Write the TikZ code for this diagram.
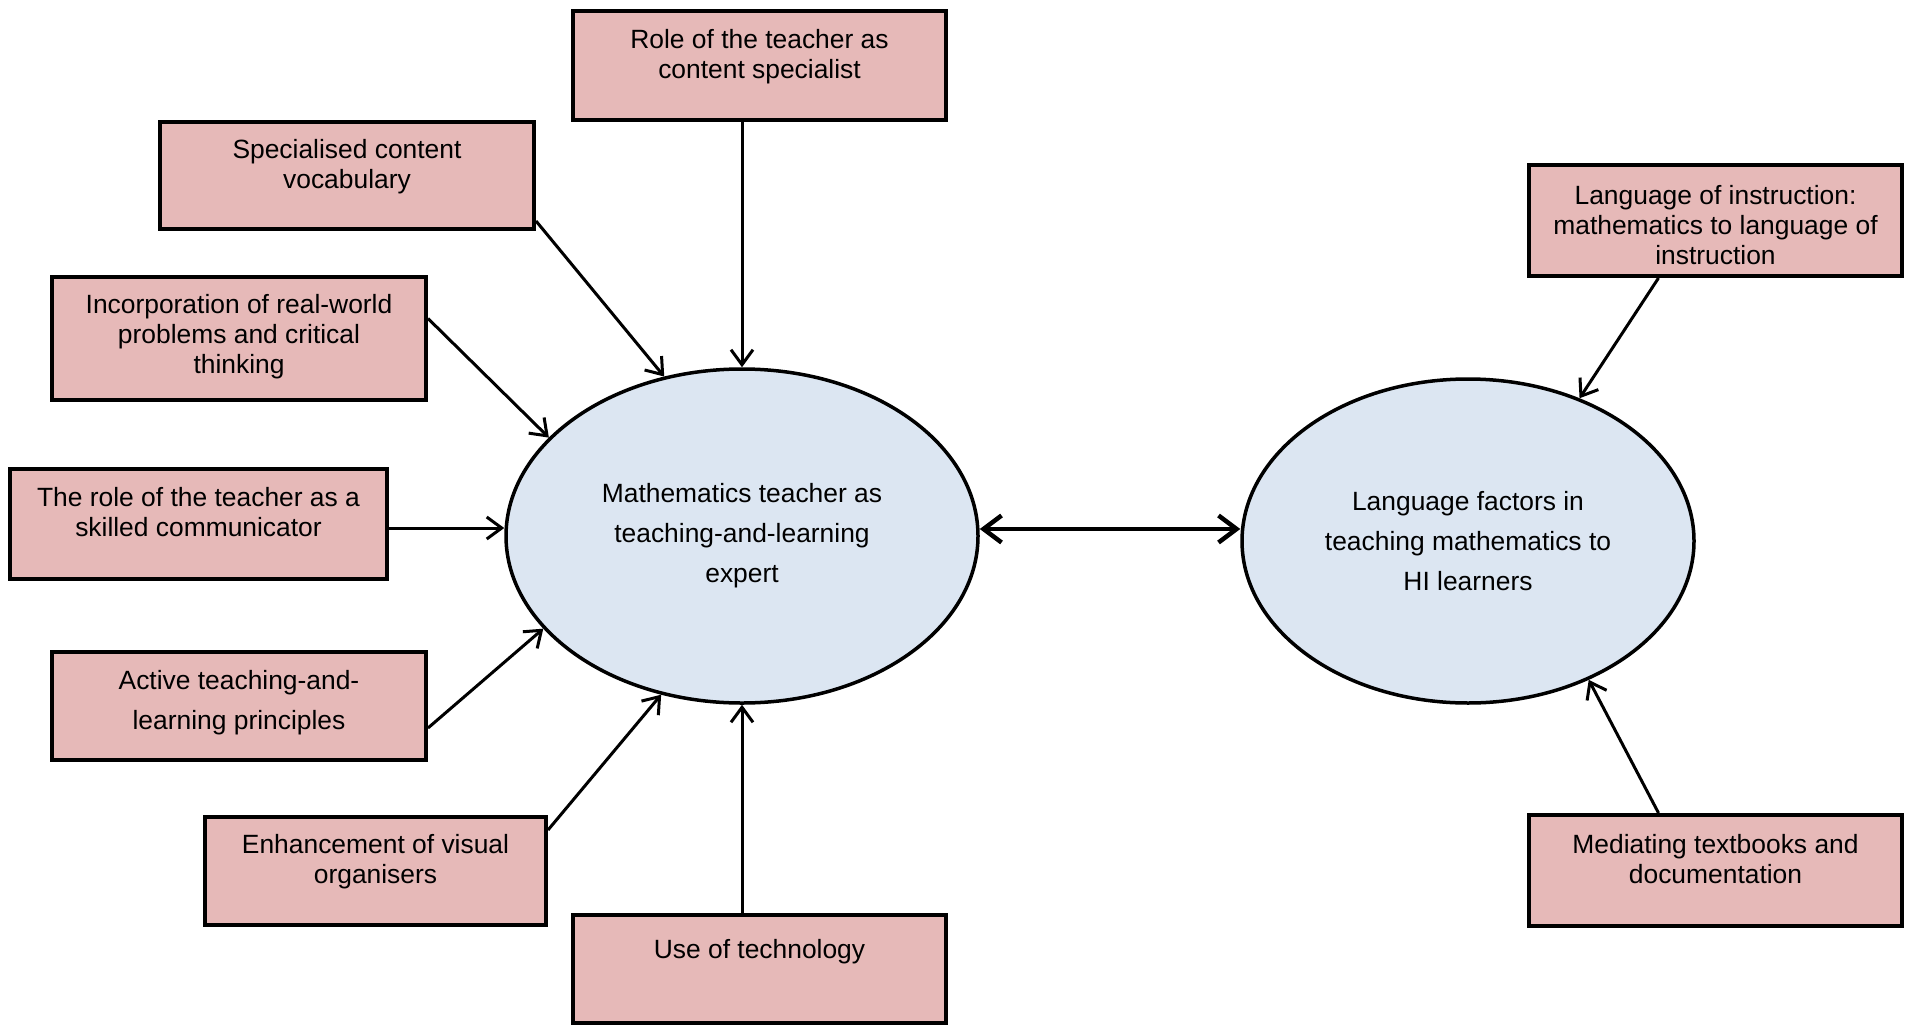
\documentclass[tikz,border=0pt]{standalone}
\usepackage{fontspec}
\setmainfont{Liberation Sans}
\usetikzlibrary{shapes.geometric,arrows.meta}
\definecolor{boxpink}{HTML}{E6B9B8}
\definecolor{ellblue}{HTML}{DCE6F2}
\begin{document}
\begin{tikzpicture}[x=1pt,y=-1pt,
  box/.style={draw=black,line width=4pt,fill=boxpink,rectangle,inner sep=0pt},
  txt/.style={anchor=north,inner sep=0pt,align=center,font=\fontsize{26.4}{30}\selectfont},
  txtwide/.style={anchor=north,inner sep=0pt,align=center,font=\fontsize{26.4}{40}\selectfont},
  ell/.style={draw=black,line width=3.5pt,fill=ellblue,ellipse,inner sep=0pt,align=center,font=\fontsize{26.4}{40}\selectfont},
  conn/.style={line width=3pt,-{Straight Barb[length=15pt,width=22pt]}},
  dbl/.style={line width=4.5pt,{Straight Barb[length=18pt,width=27pt]}-{Straight Barb[length=18pt,width=27pt]}}
]
\useasboundingbox (0,0) rectangle (1905,1025);

% boxes
\node[box,minimum width=373pt,minimum height=109pt] (b1) at (759.5,65.5) {};
\node[box,minimum width=374pt,minimum height=107pt] (b2) at (347,175.5) {};
\node[box,minimum width=374pt,minimum height=123pt] (b3) at (239,338.5) {};
\node[box,minimum width=377pt,minimum height=110pt] (b4) at (198.5,524) {};
\node[box,minimum width=374pt,minimum height=108pt] (b5) at (239,706) {};
\node[box,minimum width=341pt,minimum height=108pt] (b6) at (375.5,871) {};
\node[box,minimum width=373pt,minimum height=108pt] (b7) at (759.5,969) {};
\node[box,minimum width=373pt,minimum height=111pt] (b8) at (1715.5,220.5) {};
\node[box,minimum width=373pt,minimum height=111pt] (b9) at (1715.5,870.5) {};

% box texts
\node[txt] (t1) at ([yshift=-20pt]b1.north) {Role of the teacher as\\content specialist};
\node[txt] (t2) at ([yshift=-19pt]b2.north) {Specialised content\\vocabulary};
\node[txt] (t3) at ([yshift=-19pt]b3.north) {Incorporation of real-world\\problems and critical\\thinking};
\node[txt] (t4) at ([yshift=-20pt]b4.north) {The role of the teacher as a\\skilled communicator};
\node[txtwide] (t5) at ([yshift=-20pt]b5.north) {Active teaching-and-\\learning principles};
\node[txt] (t6) at ([yshift=-19pt]b6.north) {Enhancement of visual\\organisers};
\node[txt] (t7) at ([yshift=-26pt]b7.north) {Use of technology};
\node[txt] (t8) at ([yshift=-22pt]b8.north) {Language of instruction:\\mathematics to language of\\instruction};
\node[txt] (t9) at ([yshift=-21pt]b9.north) {Mediating textbooks and\\documentation};

% ellipses
\node[ell,minimum width=472pt,minimum height=334pt] (e1) at (742,536) {Mathematics teacher as\\teaching-and-learning\\expert};
\node[ell,minimum width=452pt,minimum height=324pt] (e2) at (1468,541) {Language factors in\\teaching mathematics to\\HI learners};

% connectors
\draw[conn] (b1.south -| e1.north) -- (e1.north);
\draw[conn] ([yshift=10pt]b2.south east) -- (e1.116.7);
\draw[conn] ([yshift=20pt]b3.east) -- (e1.153);
\draw[conn] ([yshift=-4pt]b4.east) -- ([yshift=-4pt]b4.east -| e1.west);
\draw[conn] ([yshift=-22pt]b5.east) -- (e1.205);
\draw[conn] ([yshift=41pt]b6.east) -- (e1.243.6);
\draw[conn] (b7.north -| e1.south) -- (e1.south);
\draw[conn] ([xshift=-57pt]b8.south) -- (e2.52);
\draw[conn] ([xshift=-57pt]b9.north) -- (e2.311);
\draw[dbl] ([yshift=7pt]e1.east) -- ([yshift=7pt]e1.east -| e2.west);
\end{tikzpicture}
\end{document}
